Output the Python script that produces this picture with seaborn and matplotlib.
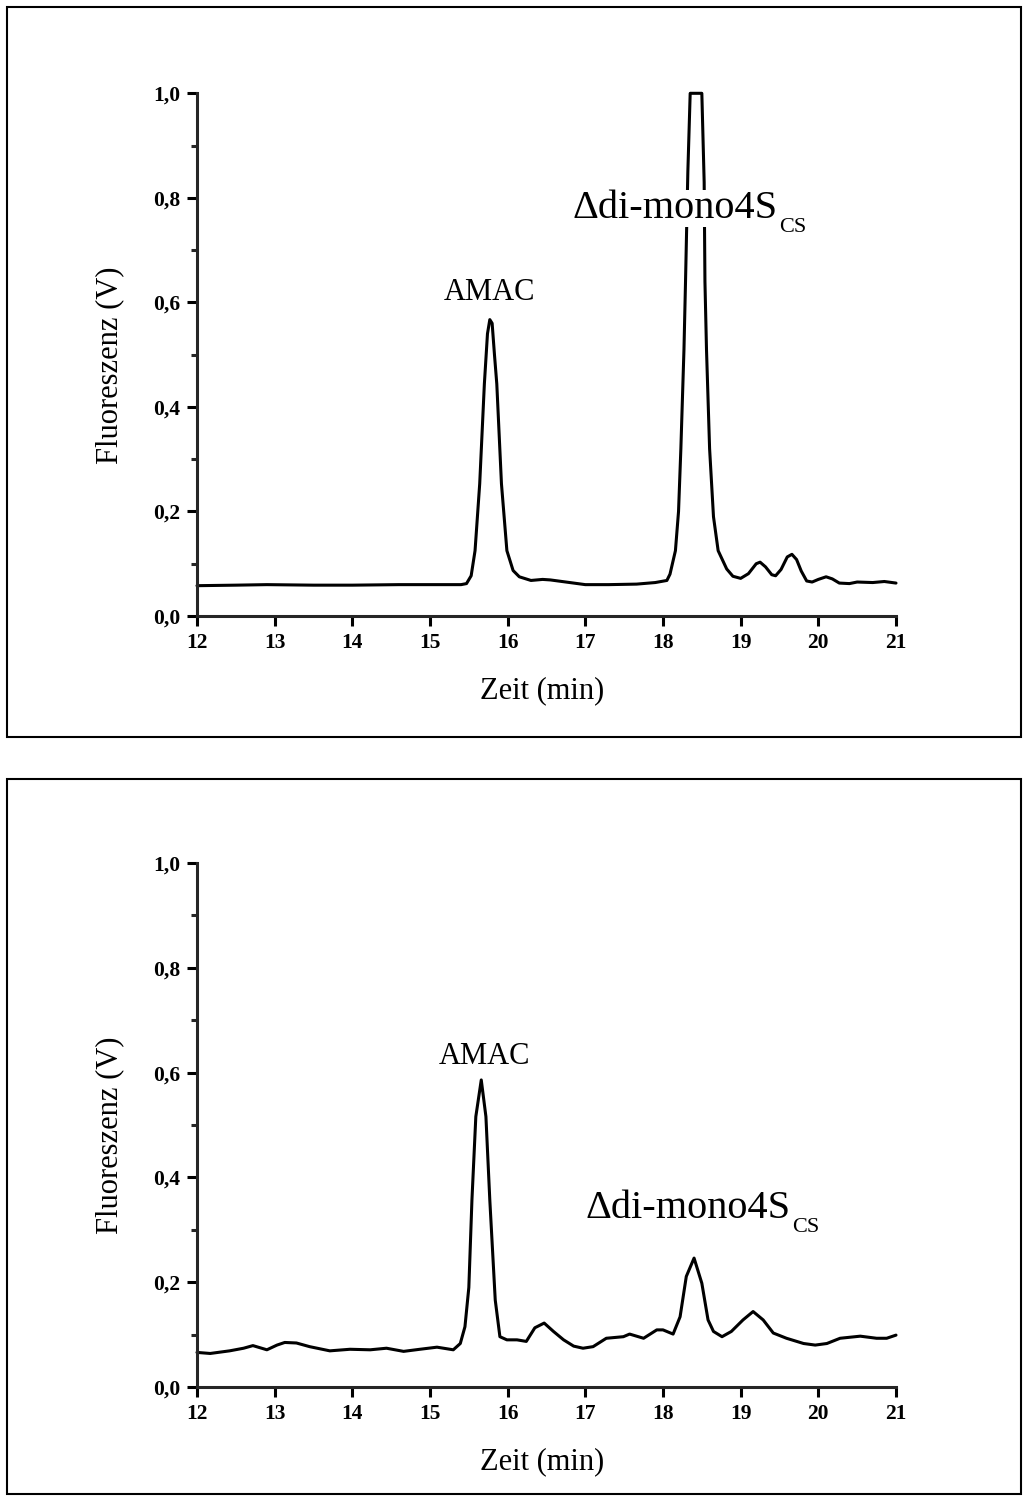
import numpy as np
import pandas as pd
import matplotlib
matplotlib.use("Agg")
import matplotlib.pyplot as plt
import seaborn as sns
from matplotlib.patches import Rectangle
from matplotlib.ticker import MultipleLocator, FuncFormatter

# ---------------- data ----------------
time_a = [12.0, 12.5, 12.9, 13.5, 14.0, 14.6, 15.0, 15.4, 15.47, 15.53, 15.58, 15.64,
          15.70, 15.74, 15.77, 15.80, 15.83, 15.86, 15.92, 15.99, 16.07, 16.15, 16.3,
          16.45, 16.55, 16.7, 16.9, 17.0, 17.3, 17.66, 17.9, 18.05, 18.09, 18.16, 18.20,
          18.23, 18.27, 18.29, 18.32, 18.35, 18.50, 18.53, 18.54, 18.56, 18.60, 18.65,
          18.71, 18.82, 18.9, 19.0, 19.1, 19.2, 19.25, 19.32, 19.4, 19.45, 19.52, 19.6,
          19.66, 19.72, 19.78, 19.85, 19.92, 20.0, 20.1, 20.18, 20.27, 20.4, 20.5, 20.7,
          20.85, 21.0]
signal_a = [0.058, 0.059, 0.060, 0.059, 0.059, 0.060, 0.060, 0.060, 0.062, 0.077, 0.125, 0.253,
            0.444, 0.540, 0.567, 0.560, 0.500, 0.444, 0.253, 0.125, 0.087, 0.075, 0.068,
            0.070, 0.069, 0.066, 0.062, 0.060, 0.060, 0.061, 0.064, 0.068, 0.080, 0.125, 0.200,
            0.320, 0.510, 0.640, 0.850, 1.000, 1.000, 0.830, 0.640, 0.510, 0.320, 0.190,
            0.125, 0.090, 0.076, 0.072, 0.081, 0.100, 0.103, 0.094, 0.079, 0.077, 0.089, 0.113,
            0.118, 0.108, 0.086, 0.067, 0.065, 0.070, 0.075, 0.071, 0.063, 0.062, 0.065, 0.064,
            0.066, 0.063]

time_b = [12.0, 12.17, 12.42, 12.6, 12.72, 12.9, 13.03, 13.13, 13.28, 13.45, 13.71, 13.97,
          14.23, 14.44, 14.66, 14.87, 15.09, 15.3, 15.39, 15.45, 15.5, 15.54, 15.59, 15.66,
          15.72, 15.77, 15.84, 15.90, 15.99, 16.12, 16.24, 16.35, 16.47, 16.59, 16.72, 16.85,
          16.97, 17.10, 17.27, 17.49, 17.57, 17.75, 17.92, 18.0, 18.13, 18.22, 18.30, 18.40,
          18.50, 18.58, 18.65, 18.76, 18.88, 19.03, 19.16, 19.29, 19.42, 19.59, 19.81, 19.96,
          20.11, 20.28, 20.54, 20.75, 20.88, 21.0]
signal_b = [0.066, 0.064, 0.069, 0.074, 0.079, 0.071, 0.080, 0.085, 0.084, 0.077, 0.069, 0.072,
            0.071, 0.074, 0.068, 0.072, 0.076, 0.071, 0.083, 0.115, 0.190, 0.357, 0.516, 0.586,
            0.516, 0.357, 0.166, 0.096, 0.090, 0.090, 0.087, 0.113, 0.122, 0.106, 0.090, 0.078,
            0.074, 0.077, 0.093, 0.096, 0.101, 0.093, 0.109, 0.109, 0.101, 0.134, 0.211, 0.246,
            0.198, 0.128, 0.106, 0.096, 0.106, 0.128, 0.144, 0.128, 0.103, 0.093, 0.083, 0.080,
            0.083, 0.093, 0.097, 0.093, 0.093, 0.099]

x_ticks = [12, 13, 14, 15, 16, 17, 18, 19, 20, 21]
y_ticks = [0.0, 0.2, 0.4, 0.6, 0.8, 1.0]
x_label = "Zeit (min)"
y_label = "Fluoreszenz (V)"
peak_main = "\u0394di-mono4S"
peak_sub = "CS"

# ---------------- style ----------------
sns.set_theme(style="ticks")
plt.rcParams["font.family"] = ["Liberation Serif", "DejaVu Serif"]
plt.rcParams["axes.linewidth"] = 2.2
plt.rcParams["xtick.major.width"] = 2.2
plt.rcParams["ytick.major.width"] = 2.2
plt.rcParams["ytick.minor.width"] = 2.2

W, H = 1029, 1502
fig = plt.figure(figsize=(W / 100, H / 100), dpi=100)
fig.patch.set_facecolor("white")

def fx(px):
    return px / W

def fy(py):
    return 1 - py / H

# panel frames
for top, bot in [(7, 737), (779, 1494)]:
    fig.patches.append(Rectangle((fx(7), fy(bot)), fx(1021) - fx(7), fy(top) - fy(bot),
                                 transform=fig.transFigure, fill=False,
                                 edgecolor="black", lw=1.5, zorder=0))

panels = [
    dict(t=time_a, s=signal_a, y0=616, y1=93.3, amac=(15.76, 0.605), lab=(16.83, 0.761)),
    dict(t=time_b, s=signal_b, y0=1387, y1=863, amac=(15.70, 0.616), lab=(17.0, 0.322)),
]

fmt = FuncFormatter(lambda v, p: f"{v:.1f}".replace(".", ","))

for p in panels:
    ax = fig.add_axes([fx(197), fy(p["y0"]), fx(896) - fx(197), (p["y0"] - p["y1"]) / H])
    df = pd.DataFrame({"t": p["t"], "s": p["s"]})
    sns.lineplot(data=df, x="t", y="s", ax=ax, color="black", lw=2.2,
                 sort=False, estimator=None, clip_on=False, zorder=2)
    ax.set_xlim(12, 21)
    ax.set_ylim(0, 1.0)
    ax.set_xticks(x_ticks)
    ax.set_yticks(y_ticks)
    ax.yaxis.set_minor_locator(MultipleLocator(0.1))
    ax.yaxis.set_major_formatter(fmt)
    ax.tick_params(axis="both", which="major", direction="out", length=7, labelsize=15.5,
                   pad=5, color="black", labelcolor="black")
    ax.tick_params(axis="y", which="minor", direction="out", length=4)
    for lab in ax.get_xticklabels() + ax.get_yticklabels():
        lab.set_fontweight("bold")
    sns.despine(ax=ax)
    ax.set_facecolor("none")
    ax.set_xlabel(x_label, fontsize=22, color="black")
    ax.set_ylabel(y_label, fontsize=22, color="black")
    ax.xaxis.set_label_coords(0.494, -0.115)
    ax.yaxis.set_label_coords(-0.104, 0.48)

    ax.text(p["amac"][0], p["amac"][1], "AMAC", ha="center", va="baseline",
            fontsize=22, color="black")
    main = ax.text(p["lab"][0], p["lab"][1], peak_main, ha="left", va="baseline",
                   fontsize=29, color="black", zorder=5,
                   bbox=dict(facecolor="white", edgecolor="none", pad=0))
    ax.annotate(peak_sub, xy=(1, 0), xycoords=main, xytext=(1.5, -3.5),
                textcoords="offset points", ha="left", va="baseline",
                fontsize=16, color="black", zorder=5)

fig.savefig("out.png", dpi=100, facecolor="white")
